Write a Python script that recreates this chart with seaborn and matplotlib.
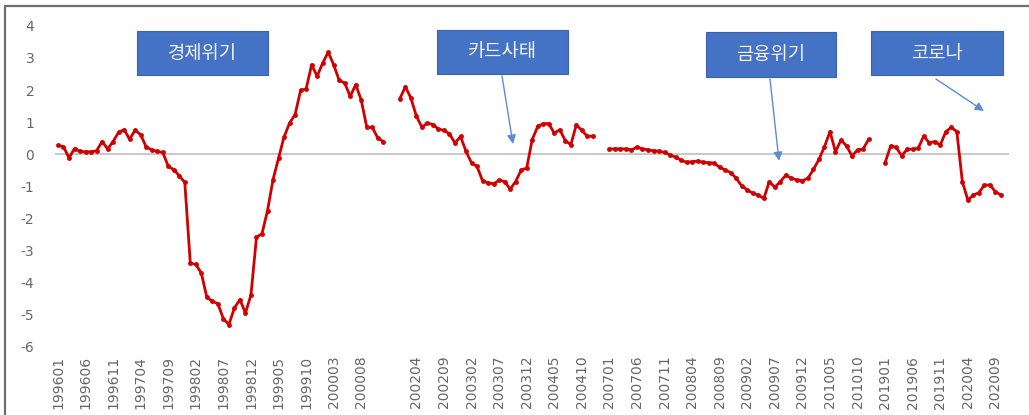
import numpy as np
import pandas as pd
import matplotlib
matplotlib.use("Agg")
import matplotlib.pyplot as plt
import seaborn as sns
from matplotlib.patches import Rectangle
from matplotlib.lines import Line2D

# ---------------- data ----------------
seg1_range = ("1996-01", "2000-12")
seg1_values = [0.27, 0.23, -0.12, 0.17, 0.08, 0.07, 0.07, 0.10, 0.39, 0.16,
               0.39, 0.68, 0.76, 0.46, 0.75, 0.60, 0.22, 0.13, 0.08, 0.05,
               -0.38, -0.49, -0.68, -0.89, -3.41, -3.45, -3.72, -4.48, -4.60, -4.68,
               -5.15, -5.33, -4.81, -4.55, -4.97, -4.40, -2.60, -2.49, -1.77, -0.80,
               -0.13, 0.53, 0.97, 1.23, 1.99, 2.03, 2.79, 2.43, 2.84, 3.18,
               2.79, 2.30, 2.22, 1.80, 2.17, 1.68, 0.84, 0.83, 0.50, 0.39]
seg2_range = ("2002-01", "2004-12")
seg2_values = [1.73, 2.10, 1.75, 1.18, 0.84, 0.97, 0.92, 0.78, 0.74, 0.63,
               0.34, 0.55, 0.08, -0.28, -0.39, -0.84, -0.90, -0.93, -0.82, -0.86,
               -1.10, -0.86, -0.50, -0.44, 0.45, 0.86, 0.95, 0.95, 0.65, 0.76,
               0.42, 0.29, 0.91, 0.74, 0.55, 0.56]
seg3_range = ("2007-01", "2010-12")
seg3_values = [0.16, 0.16, 0.16, 0.16, 0.13, 0.21, 0.16, 0.13, 0.10, 0.09,
               0.05, -0.03, -0.10, -0.19, -0.26, -0.24, -0.22, -0.26, -0.27, -0.29,
               -0.42, -0.50, -0.58, -0.76, -1.00, -1.12, -1.23, -1.28, -1.39, -0.86,
               -1.04, -0.86, -0.66, -0.76, -0.81, -0.83, -0.76, -0.48, -0.17, 0.23,
               0.70, 0.07, 0.44, 0.25, -0.06, 0.13, 0.15, 0.46]
seg4_range = ("2019-01", "2020-10")
seg4_values = [-0.27, 0.25, 0.21, -0.06, 0.15, 0.15, 0.18, 0.56, 0.35, 0.39,
               0.28, 0.70, 0.83, 0.70, -0.86, -1.44, -1.28, -1.21, -0.97, -0.97,
               -1.18, -1.28]
gap_rows = 2
events = ["경제위기", "카드사태", "금융위기", "코로나"]

segments = [(seg1_range, seg1_values), (seg2_range, seg2_values),
            (seg3_range, seg3_values), (seg4_range, seg4_values)]

rows, labels = [], []
idx = 0
for s, ((start, end), vals) in enumerate(segments):
    months = pd.period_range(start, end, freq="M").strftime("%Y%m")
    for m, v in zip(months, vals):
        rows.append({"idx": idx, "value": v, "seg": s})
        labels.append(m)
        idx += 1
    if s < len(segments) - 1:
        labels += [""] * gap_rows
        idx += gap_rows
df = pd.DataFrame(rows)
n_cat = len(labels)

# ---------------- figure ----------------
sns.set_theme(style="white")
plt.rcParams["font.family"] = ["DejaVu Sans", "Noto Sans CJK KR"]

W, H = 1029, 415
fig = plt.figure(figsize=(W / 100, H / 100), dpi=100)
ax = fig.add_axes([55.2 / W, 69 / H, 954 / W, 320 / H])

ax.axhline(0, color="#BFBFBF", lw=1.2, zorder=1)
sns.lineplot(data=df, x="idx", y="value", units="seg", estimator=None,
             color="#D00000", lw=2.0, marker="o", markersize=3.5,
             markeredgewidth=0, ax=ax, zorder=3)

ax.set_xlim(-0.5, n_cat + 0.5)
ax.set_ylim(-6, 4)
ax.set_yticks(range(-6, 5))
ax.set_yticklabels([str(v) for v in range(-6, 5)], color="#666666", fontsize=10)
tick_pos = list(range(0, n_cat, 5))
ax.set_xticks(tick_pos)
ax.set_xticklabels([labels[i] for i in tick_pos], rotation=90, color="#666666",
                   fontsize=10, va="top", ha="center")
ax.tick_params(axis="y", length=0, pad=15)
ax.tick_params(axis="x", length=0, pad=7)
ax.set_xlabel("")
ax.set_ylabel("")
for sp in ax.spines.values():
    sp.set_visible(False)

# chart frame (left and top)
fig.add_artist(Line2D([4.5 / W, 4.5 / W], [0, (H - 6.5) / H], color="#6E6E6E", lw=1.6))
fig.add_artist(Line2D([4.5 / W, 1], [(H - 6.5) / H, (H - 6.5) / H], color="#6E6E6E", lw=1.6))

# event boxes (pixel geometry: left, top, width, height)
boxes = [(137, 31, 131, 44), (437, 30, 131, 44), (706, 32, 130, 45), (871, 31, 132, 44)]
for text, (bx, by, bw, bh) in zip(events, boxes):
    fig.add_artist(Rectangle((bx / W, (H - by - bh) / H), bw / W, bh / H,
                             facecolor="#4472C4", edgecolor="#3A62AE", lw=0.8))
    fig.text((bx + bw / 2) / W, (H - by - bh / 2) / H, text, color="#F2F2F2",
             fontsize=13.5, ha="center", va="center",
             family=["Noto Sans CJK KR", "DejaVu Sans"])

# arrows (pixel coords: start -> tip)
arrows = [((502, 76), (513, 144)), ((770, 79), (779, 161)), ((936, 79), (984, 111))]
for (x0, y0), (x1, y1) in arrows:
    ax.annotate("", xy=(x1, H - y1), xytext=(x0, H - y0),
                xycoords="figure pixels", textcoords="figure pixels",
                arrowprops=dict(arrowstyle="-|>", color="#5B8DD6", lw=1.0,
                                mutation_scale=13, shrinkA=0, shrinkB=0))

fig.savefig("out.png", dpi=100)
